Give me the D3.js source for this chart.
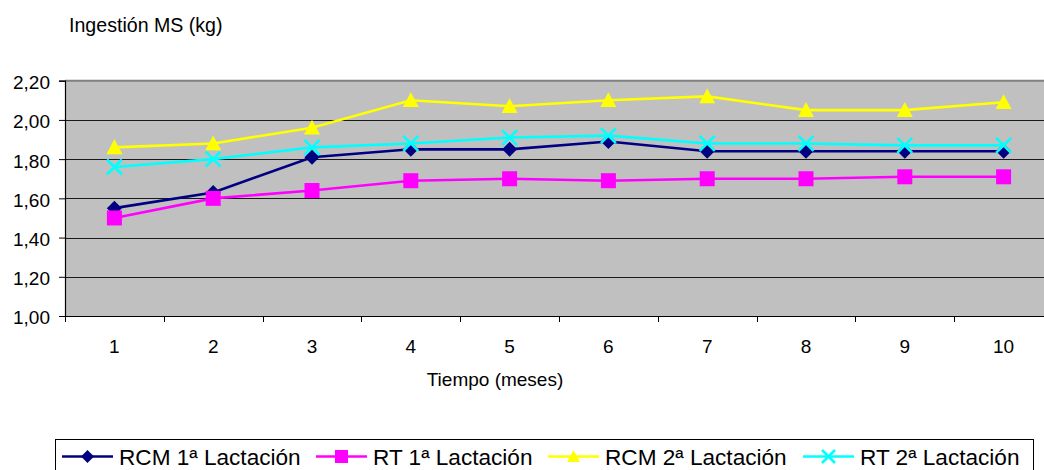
<!DOCTYPE html>
<html>
<head>
<meta charset="utf-8">
<script src="https://cdn.jsdelivr.net/npm/d3@7"></script>
<style>
  html, body { margin: 0; padding: 0; background: #fff; }
  svg { display: block; font-family: "Liberation Sans", Arial, sans-serif; }
</style>
</head>
<body>
<svg id="chart" width="1044" height="470"></svg>
<script>
// Monthly dry-matter intake (kg) per group
const months = ["1", "2", "3", "4", "5", "6", "7", "8", "9", "10"];
const rcm1 = [1.55, 1.63, 1.81, 1.85, 1.85, 1.89, 1.84, 1.84, 1.84, 1.84];
const rt1  = [1.50, 1.60, 1.64, 1.69, 1.70, 1.69, 1.70, 1.70, 1.71, 1.71];
const rcm2 = [1.86, 1.88, 1.96, 2.10, 2.07, 2.10, 2.12, 2.05, 2.05, 2.09];
const rt2  = [1.76, 1.80, 1.86, 1.88, 1.91, 1.92, 1.88, 1.88, 1.87, 1.87];
const seriesNames = ["RCM 1ª Lactación", "RT 1ª Lactación", "RCM 2ª Lactación", "RT 2ª Lactación"];
const yTicks = [1.00, 1.20, 1.40, 1.60, 1.80, 2.00, 2.20];
const yTitle = "Ingestión MS (kg)";
const xTitle = "Tiempo (meses)";

const series = [
  { name: seriesNames[0], values: rcm1, color: "#000080", marker: "diamond" },
  { name: seriesNames[1], values: rt1,  color: "#FF00FF", marker: "square" },
  { name: seriesNames[2], values: rcm2, color: "#FFFF00", marker: "triangle" },
  { name: seriesNames[3], values: rt2,  color: "#00FFFF", marker: "cross" }
];

const svg = d3.select("#chart");
const plot = { left: 65, top: 80.7, bottom: 316, step: 98.8 };
plot.right = plot.left + plot.step * months.length;

const x = d3.scaleBand().domain(months).range([plot.left, plot.right]).paddingInner(0).paddingOuter(0);
const y = d3.scaleLinear().domain([1.0, 2.2]).range([plot.bottom, plot.top]);
const fmt = d3.formatLocale({ decimal: ",", thousands: ".", grouping: [3], currency: ["", "€"] }).format(".2f");

// Plot background
svg.append("rect")
  .attr("x", plot.left).attr("y", plot.top)
  .attr("width", plot.right - plot.left).attr("height", plot.bottom - plot.top)
  .attr("fill", "#C0C0C0");

// Horizontal gridlines
svg.append("g").selectAll("line")
  .data(yTicks.filter(d => d > 1.0 && d < 2.2))
  .join("line")
  .attr("x1", plot.left).attr("x2", plot.right)
  .attr("y1", d => Math.round(y(d)) + 0.5).attr("y2", d => Math.round(y(d)) + 0.5)
  .attr("stroke", "#1a1a1a").attr("stroke-width", 1);

// Top border of the plot area
svg.append("line")
  .attr("x1", plot.left).attr("x2", plot.right)
  .attr("y1", plot.top).attr("y2", plot.top)
  .attr("stroke", "#808080").attr("stroke-width", 2);

// Y axis
const yAxis = svg.append("g")
  .attr("transform", `translate(${plot.left},0)`)
  .call(d3.axisLeft(y).tickValues(yTicks).tickFormat(fmt).tickSize(6).tickPadding(9));
yAxis.select(".domain").attr("stroke", "#000").attr("stroke-width", 1.2);
yAxis.selectAll(".tick line").attr("stroke", "#000");
yAxis.selectAll(".tick text")
  .attr("font-size", 19).attr("fill", "#000")
  .attr("font-family", "Liberation Sans, Arial, sans-serif")
  .attr("dy", "0.42em");

// X axis: labels centred in each band, ticks on band boundaries
const xAxis = svg.append("g")
  .attr("transform", `translate(0,${plot.bottom})`)
  .call(d3.axisBottom(x).tickSize(0).tickPadding(24));
xAxis.select(".domain").attr("stroke", "#000").attr("stroke-width", 1.2);
xAxis.selectAll(".tick text")
  .attr("font-size", 19).attr("fill", "#000")
  .attr("font-family", "Liberation Sans, Arial, sans-serif");
const bounds = months.map(m => x(m)).concat([plot.right]);
svg.append("g").selectAll("line")
  .data(bounds)
  .join("line")
  .attr("x1", d => Math.round(d) + 0.5).attr("x2", d => Math.round(d) + 0.5)
  .attr("y1", plot.bottom).attr("y2", plot.bottom + 6)
  .attr("stroke", "#000");

// Axis titles
svg.append("text")
  .attr("x", 69).attr("y", 32)
  .attr("font-size", 19.6).attr("fill", "#000")
  .text(yTitle);
svg.append("text")
  .attr("x", 495).attr("y", 386)
  .attr("text-anchor", "middle")
  .attr("font-size", 19).attr("fill", "#000")
  .text(xTitle);

// Marker shapes
function drawMarker(g, type, color, size) {
  const h = size / 2;
  if (type === "diamond") {
    g.append("path").attr("d", `M0,${-h}L${h},0L0,${h}L${-h},0Z`).attr("fill", color);
  } else if (type === "square") {
    g.append("rect").attr("x", -h).attr("y", -h).attr("width", size).attr("height", size).attr("fill", color);
  } else if (type === "triangle") {
    g.append("path").attr("d", `M0,${-h}L${h},${h * 0.85}L${-h},${h * 0.85}Z`).attr("fill", color);
  } else if (type === "cross") {
    g.append("path").attr("d", `M${-h},${-h}L${h},${h}M${h},${-h}L${-h},${h}`)
      .attr("stroke", color).attr("stroke-width", 2.6).attr("fill", "none");
  }
}

const line = d3.line()
  .x((d, i) => x(months[i]) + x.bandwidth() / 2)
  .y(d => y(d));

const marks = svg.append("g");
series.forEach(s => {
  const g = marks.append("g");
  g.append("path")
    .attr("d", line(s.values))
    .attr("fill", "none")
    .attr("stroke", s.color)
    .attr("stroke-width", 2.6);
  s.values.forEach((v, i) => {
    const m = g.append("g")
      .attr("transform", `translate(${x(months[i]) + x.bandwidth() / 2},${y(v)})`);
    drawMarker(m, s.marker, s.color, s.marker === "triangle" ? 16 : 15);
  });
});

// Legend
const legendBox = { x: 55, y: 439.5, w: 978, h: 40 };
svg.append("rect")
  .attr("x", legendBox.x + 0.5).attr("y", legendBox.y)
  .attr("width", legendBox.w).attr("height", legendBox.h)
  .attr("fill", "#fff").attr("stroke", "#000").attr("stroke-width", 1);

const legendX = [62, 316, 548, 803];
const swatchW = 51;
const legendLineY = 456.5;
series.forEach((s, i) => {
  const g = svg.append("g");
  g.append("line")
    .attr("x1", legendX[i]).attr("x2", legendX[i] + swatchW)
    .attr("y1", legendLineY).attr("y2", legendLineY)
    .attr("stroke", s.color).attr("stroke-width", 2.6);
  const m = g.append("g").attr("transform", `translate(${legendX[i] + swatchW / 2},${legendLineY})`);
  drawMarker(m, s.marker, s.color, 13);
  g.append("text")
    .attr("x", legendX[i] + swatchW + 6).attr("y", 465)
    .attr("font-size", 22.6).attr("fill", "#000")
    .text(s.name);
});
</script>
</body>
</html>
